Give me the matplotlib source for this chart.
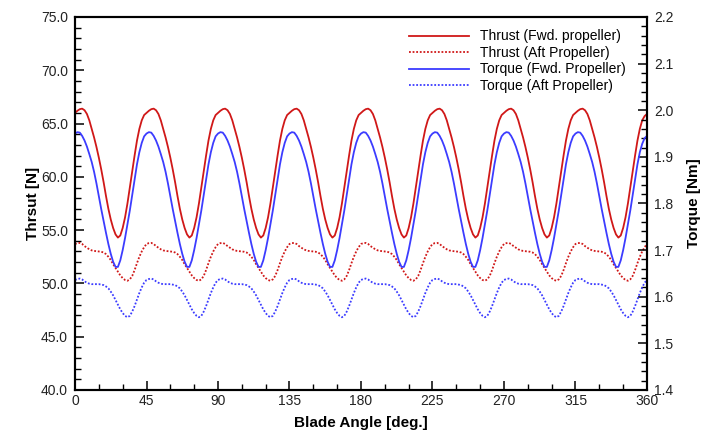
import matplotlib
matplotlib.use("Agg")
import matplotlib.pyplot as plt

plt.rcParams['font.family'] = ['Liberation Sans', 'DejaVu Sans']

# blade angle, every 1.5 degrees from 0 to 360
angle = [i * 1.5 for i in range(241)]

# thrust, forward propeller [N] - one row per 45 deg
thrust_fwd = [
    66.0, 66.2, 66.35, 66.4, 66.25, 65.9, 65.3, 64.5, 63.7, 62.8, 61.8, 60.7, 59.5, 58.2, 57.0,
    56.0, 55.2, 54.6, 54.3, 54.5, 55.2, 56.2, 57.5, 59.0, 60.5, 62.0, 63.4, 64.5, 65.3, 65.8,
    66.0, 66.2, 66.35, 66.4, 66.25, 65.9, 65.3, 64.5, 63.7, 62.8, 61.8, 60.7, 59.5, 58.2, 57.0,
    56.0, 55.2, 54.6, 54.3, 54.5, 55.2, 56.2, 57.5, 59.0, 60.5, 62.0, 63.4, 64.5, 65.3, 65.8,
    66.0, 66.2, 66.35, 66.4, 66.25, 65.9, 65.3, 64.5, 63.7, 62.8, 61.8, 60.7, 59.5, 58.2, 57.0,
    56.0, 55.2, 54.6, 54.3, 54.5, 55.2, 56.2, 57.5, 59.0, 60.5, 62.0, 63.4, 64.5, 65.3, 65.8,
    66.0, 66.2, 66.35, 66.4, 66.25, 65.9, 65.3, 64.5, 63.7, 62.8, 61.8, 60.7, 59.5, 58.2, 57.0,
    56.0, 55.2, 54.6, 54.3, 54.5, 55.2, 56.2, 57.5, 59.0, 60.5, 62.0, 63.4, 64.5, 65.3, 65.8,
    66.0, 66.2, 66.35, 66.4, 66.25, 65.9, 65.3, 64.5, 63.7, 62.8, 61.8, 60.7, 59.5, 58.2, 57.0,
    56.0, 55.2, 54.6, 54.3, 54.5, 55.2, 56.2, 57.5, 59.0, 60.5, 62.0, 63.4, 64.5, 65.3, 65.8,
    66.0, 66.2, 66.35, 66.4, 66.25, 65.9, 65.3, 64.5, 63.7, 62.8, 61.8, 60.7, 59.5, 58.2, 57.0,
    56.0, 55.2, 54.6, 54.3, 54.5, 55.2, 56.2, 57.5, 59.0, 60.5, 62.0, 63.4, 64.5, 65.3, 65.8,
    66.0, 66.2, 66.35, 66.4, 66.25, 65.9, 65.3, 64.5, 63.7, 62.8, 61.8, 60.7, 59.5, 58.2, 57.0,
    56.0, 55.2, 54.6, 54.3, 54.5, 55.2, 56.2, 57.5, 59.0, 60.5, 62.0, 63.4, 64.5, 65.3, 65.8,
    66.0, 66.2, 66.35, 66.4, 66.25, 65.9, 65.3, 64.5, 63.7, 62.8, 61.8, 60.7, 59.5, 58.2, 57.0,
    56.0, 55.2, 54.6, 54.3, 54.5, 55.2, 56.2, 57.5, 59.0, 60.5, 62.0, 63.4, 64.5, 65.3, 65.7,
    65.9]

# thrust, aft propeller [N]
thrust_aft = [
    53.7, 53.78, 53.8, 53.7, 53.5, 53.35, 53.2, 53.1, 53.05, 53.02, 53.0, 52.97, 52.9, 52.75, 52.5,
    52.2, 51.8, 51.45, 51.1, 50.75, 50.5, 50.32, 50.25, 50.38, 50.7, 51.25, 51.9, 52.5, 53.0, 53.4,
    53.7, 53.78, 53.8, 53.7, 53.5, 53.35, 53.2, 53.1, 53.05, 53.02, 53.0, 52.97, 52.9, 52.75, 52.5,
    52.2, 51.8, 51.45, 51.1, 50.75, 50.5, 50.32, 50.25, 50.38, 50.7, 51.25, 51.9, 52.5, 53.0, 53.4,
    53.7, 53.78, 53.8, 53.7, 53.5, 53.35, 53.2, 53.1, 53.05, 53.02, 53.0, 52.97, 52.9, 52.75, 52.5,
    52.2, 51.8, 51.45, 51.1, 50.75, 50.5, 50.32, 50.25, 50.38, 50.7, 51.25, 51.9, 52.5, 53.0, 53.4,
    53.7, 53.78, 53.8, 53.7, 53.5, 53.35, 53.2, 53.1, 53.05, 53.02, 53.0, 52.97, 52.9, 52.75, 52.5,
    52.2, 51.8, 51.45, 51.1, 50.75, 50.5, 50.32, 50.25, 50.38, 50.7, 51.25, 51.9, 52.5, 53.0, 53.4,
    53.7, 53.78, 53.8, 53.7, 53.5, 53.35, 53.2, 53.1, 53.05, 53.02, 53.0, 52.97, 52.9, 52.75, 52.5,
    52.2, 51.8, 51.45, 51.1, 50.75, 50.5, 50.32, 50.25, 50.38, 50.7, 51.25, 51.9, 52.5, 53.0, 53.4,
    53.7, 53.78, 53.8, 53.7, 53.5, 53.35, 53.2, 53.1, 53.05, 53.02, 53.0, 52.97, 52.9, 52.75, 52.5,
    52.2, 51.8, 51.45, 51.1, 50.75, 50.5, 50.32, 50.25, 50.38, 50.7, 51.25, 51.9, 52.5, 53.0, 53.4,
    53.7, 53.78, 53.8, 53.7, 53.5, 53.35, 53.2, 53.1, 53.05, 53.02, 53.0, 52.97, 52.9, 52.75, 52.5,
    52.2, 51.8, 51.45, 51.1, 50.75, 50.5, 50.32, 50.25, 50.38, 50.7, 51.25, 51.9, 52.5, 53.0, 53.4,
    53.7, 53.78, 53.8, 53.7, 53.5, 53.35, 53.2, 53.1, 53.05, 53.02, 53.0, 52.97, 52.9, 52.75, 52.5,
    52.2, 51.8, 51.45, 51.1, 50.75, 50.5, 50.32, 50.25, 50.38, 50.7, 51.25, 51.9, 52.5, 53.0, 53.4,
    53.7]

# torque, forward propeller [Nm]
torque_fwd = [
    1.950, 1.953, 1.952, 1.945, 1.935, 1.922, 1.906, 1.889, 1.868, 1.843, 1.815, 1.788, 1.762, 1.737, 1.713,
    1.692, 1.675, 1.664, 1.664, 1.678, 1.700, 1.726, 1.755, 1.785, 1.818, 1.852, 1.884, 1.910, 1.930, 1.944,
    1.950, 1.953, 1.952, 1.945, 1.935, 1.922, 1.906, 1.889, 1.868, 1.843, 1.815, 1.788, 1.762, 1.737, 1.713,
    1.692, 1.675, 1.664, 1.664, 1.678, 1.700, 1.726, 1.755, 1.785, 1.818, 1.852, 1.884, 1.910, 1.930, 1.944,
    1.950, 1.953, 1.952, 1.945, 1.935, 1.922, 1.906, 1.889, 1.868, 1.843, 1.815, 1.788, 1.762, 1.737, 1.713,
    1.692, 1.675, 1.664, 1.664, 1.678, 1.700, 1.726, 1.755, 1.785, 1.818, 1.852, 1.884, 1.910, 1.930, 1.944,
    1.950, 1.953, 1.952, 1.945, 1.935, 1.922, 1.906, 1.889, 1.868, 1.843, 1.815, 1.788, 1.762, 1.737, 1.713,
    1.692, 1.675, 1.664, 1.664, 1.678, 1.700, 1.726, 1.755, 1.785, 1.818, 1.852, 1.884, 1.910, 1.930, 1.944,
    1.950, 1.953, 1.952, 1.945, 1.935, 1.922, 1.906, 1.889, 1.868, 1.843, 1.815, 1.788, 1.762, 1.737, 1.713,
    1.692, 1.675, 1.664, 1.664, 1.678, 1.700, 1.726, 1.755, 1.785, 1.818, 1.852, 1.884, 1.910, 1.930, 1.944,
    1.950, 1.953, 1.952, 1.945, 1.935, 1.922, 1.906, 1.889, 1.868, 1.843, 1.815, 1.788, 1.762, 1.737, 1.713,
    1.692, 1.675, 1.664, 1.664, 1.678, 1.700, 1.726, 1.755, 1.785, 1.818, 1.852, 1.884, 1.910, 1.930, 1.944,
    1.950, 1.953, 1.952, 1.945, 1.935, 1.922, 1.906, 1.889, 1.868, 1.843, 1.815, 1.788, 1.762, 1.737, 1.713,
    1.692, 1.675, 1.664, 1.664, 1.678, 1.700, 1.726, 1.755, 1.785, 1.818, 1.852, 1.884, 1.910, 1.930, 1.944,
    1.950, 1.953, 1.952, 1.945, 1.935, 1.922, 1.906, 1.889, 1.868, 1.843, 1.815, 1.788, 1.762, 1.737, 1.713,
    1.692, 1.675, 1.664, 1.664, 1.678, 1.700, 1.726, 1.755, 1.785, 1.818, 1.852, 1.884, 1.910, 1.928, 1.940,
    1.945]

# torque, aft propeller [Nm]
torque_aft = [
    1.636, 1.638, 1.639, 1.637, 1.633, 1.630, 1.628, 1.627, 1.627, 1.627, 1.627, 1.626, 1.625, 1.622, 1.618,
    1.611, 1.603, 1.593, 1.583, 1.573, 1.565, 1.559, 1.556, 1.559, 1.568, 1.580, 1.594, 1.608, 1.620, 1.630,
    1.636, 1.638, 1.639, 1.637, 1.633, 1.630, 1.628, 1.627, 1.627, 1.627, 1.627, 1.626, 1.625, 1.622, 1.618,
    1.611, 1.603, 1.593, 1.583, 1.573, 1.565, 1.559, 1.556, 1.559, 1.568, 1.580, 1.594, 1.608, 1.620, 1.630,
    1.636, 1.638, 1.639, 1.637, 1.633, 1.630, 1.628, 1.627, 1.627, 1.627, 1.627, 1.626, 1.625, 1.622, 1.618,
    1.611, 1.603, 1.593, 1.583, 1.573, 1.565, 1.559, 1.556, 1.559, 1.568, 1.580, 1.594, 1.608, 1.620, 1.630,
    1.636, 1.638, 1.639, 1.637, 1.633, 1.630, 1.628, 1.627, 1.627, 1.627, 1.627, 1.626, 1.625, 1.622, 1.618,
    1.611, 1.603, 1.593, 1.583, 1.573, 1.565, 1.559, 1.556, 1.559, 1.568, 1.580, 1.594, 1.608, 1.620, 1.630,
    1.636, 1.638, 1.639, 1.637, 1.633, 1.630, 1.628, 1.627, 1.627, 1.627, 1.627, 1.626, 1.625, 1.622, 1.618,
    1.611, 1.603, 1.593, 1.583, 1.573, 1.565, 1.559, 1.556, 1.559, 1.568, 1.580, 1.594, 1.608, 1.620, 1.630,
    1.636, 1.638, 1.639, 1.637, 1.633, 1.630, 1.628, 1.627, 1.627, 1.627, 1.627, 1.626, 1.625, 1.622, 1.618,
    1.611, 1.603, 1.593, 1.583, 1.573, 1.565, 1.559, 1.556, 1.559, 1.568, 1.580, 1.594, 1.608, 1.620, 1.630,
    1.636, 1.638, 1.639, 1.637, 1.633, 1.630, 1.628, 1.627, 1.627, 1.627, 1.627, 1.626, 1.625, 1.622, 1.618,
    1.611, 1.603, 1.593, 1.583, 1.573, 1.565, 1.559, 1.556, 1.559, 1.568, 1.580, 1.594, 1.608, 1.620, 1.630,
    1.636, 1.638, 1.639, 1.637, 1.633, 1.630, 1.628, 1.627, 1.627, 1.627, 1.627, 1.626, 1.625, 1.622, 1.618,
    1.611, 1.603, 1.593, 1.583, 1.573, 1.565, 1.559, 1.556, 1.559, 1.568, 1.580, 1.594, 1.608, 1.620, 1.630,
    1.636]

x_ticks = [0, 45, 90, 135, 180, 225, 270, 315, 360]
left_ticks = [40, 45, 50, 55, 60, 65, 70, 75]
right_ticks = [1.4, 1.5, 1.6, 1.7, 1.8, 1.9, 2.0, 2.1, 2.2]

red = '#d01818'
blue = '#3c3cff'

fig = plt.figure(figsize=(7.05, 4.37), dpi=100)
ax = fig.add_axes([0.1064, 0.1076, 0.8113, 0.8535])
ax2 = ax.twinx()

l1, = ax.plot(angle, thrust_fwd, color=red, lw=1.3, label='Thrust (Fwd. propeller)')
l2, = ax.plot(angle, thrust_aft, color=red, lw=1.3, ls=(0, (1, 1)), label='Thrust (Aft Propeller)')
l3, = ax2.plot(angle, torque_fwd, color=blue, lw=1.3, label='Torque (Fwd. Propeller)')
l4, = ax2.plot(angle, torque_aft, color=blue, lw=1.3, ls=(0, (1, 1)), label='Torque (Aft Propeller)')

ax.set_xlim(0, 360)
ax.set_ylim(40, 75)
ax2.set_ylim(1.4, 2.2)

ax.set_xticks(x_ticks)
ax.set_xticks(range(0, 361, 15), minor=True)
ax.set_yticks(left_ticks)
ax.set_yticklabels(['%.1f' % v for v in left_ticks])
ax.set_yticks(range(40, 76), minor=True)
ax2.set_yticks(right_ticks)
ax2.set_yticklabels(['%.1f' % v for v in right_ticks])
ax2.set_yticks([1.4 + 0.02 * i for i in range(41)], minor=True)

for a in (ax, ax2):
    for s in a.spines.values():
        s.set_linewidth(1.5)
    a.tick_params(which='major', direction='in', length=6.5, width=1.1, labelsize=10, labelcolor='#222222')
    a.tick_params(which='minor', direction='in', length=4, width=1.0)

ax.tick_params(axis='x', which='both', top=False, pad=3)
ax.tick_params(axis='y', which='both', right=False, pad=5)
ax2.tick_params(axis='y', which='both', left=False, pad=5)

ax.set_xlabel('Blade Angle [deg.]', fontsize=11, fontweight='bold', labelpad=6)
ax.set_ylabel('Thrsut [N]', fontsize=11, fontweight='bold', labelpad=1)
ax2.set_ylabel('Torque [Nm]', fontsize=11, fontweight='bold', labelpad=10)

leg = ax2.legend(handles=[l1, l2, l3, l4], loc='upper right', frameon=False, fontsize=10,
                 handlelength=4.3, handletextpad=0.8, labelspacing=0.18,
                 bbox_to_anchor=(0.985, 1.0))

fig.savefig('out.png', dpi=100)
